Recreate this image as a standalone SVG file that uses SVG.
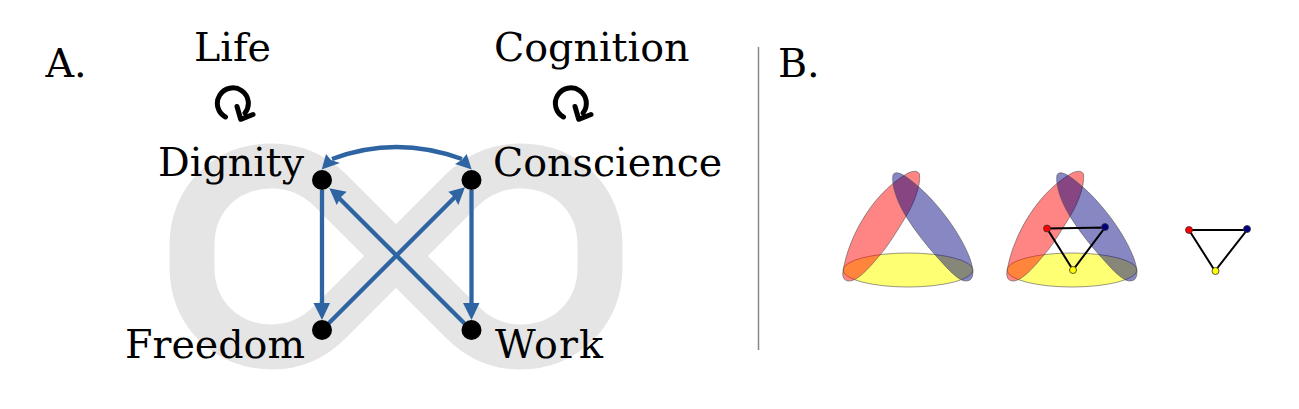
<svg xmlns="http://www.w3.org/2000/svg" width="1299" height="409" viewBox="0 0 1299 409">
<style>
text{font-family:"DejaVu Serif",serif;font-size:39.6px;fill:#000}
.band{fill:none;stroke:#e5e5e5;stroke-width:45}
.e{fill:none;stroke:#2f64a3;stroke-width:4.300}
.ah{fill:#2f64a3}
.dot{fill:#000}
.loop{fill:none;stroke:#000;stroke-width:5;stroke-linecap:round;stroke-linejoin:round}
.r{fill:#ff0000;fill-opacity:.48;stroke:#555;stroke-opacity:.6;stroke-width:1}
.b{fill:#000080;fill-opacity:.47;stroke:#555;stroke-opacity:.6;stroke-width:1}
.y{fill:#ffff00;fill-opacity:.55;stroke:#555;stroke-opacity:.6;stroke-width:1}
.t{fill:none;stroke:#000;stroke-width:2}
.n{stroke:#333;stroke-width:.8}
</style>
<defs>
<g id="venn">
<ellipse class="y" cx="908" cy="270" rx="65" ry="17"/>
<path class="r" d="M842.700 274C846 245 868 196 908 173Q917 169 919.500 174C921 185 914 204 905 218C897 231 888 246 880 255C870 267 858 281 849 281Q843 281 842.700 274Z"/>
<path class="b" d="M973 272C972 250 940 200 905 176Q895 170 893 175C891 186 898 204 907 218C916 232 927 246 937 257C947 268 958 281 966 281Q973 281 973 272Z"/>
</g>
</defs>
<g id="background"><path class="band" d="M396 256L330 190Q305 166 272 166C225 166 192 200 192 245V268C192 312 225 347 272 347Q305 347 330 322L462 190Q487 166 520 166C567 166 600 200 600 245V268C600 312 567 347 520 347Q487 347 462 322L396 256Z"/></g>
<g id="connectors">
<path class="e" d="M332 159Q396 135 462 159"/>
<path class="ah" d="M321.700 169.500L326 154L331 160L340 163Z"/>
<path class="ah" d="M471.700 169.500L466.700 154L461.700 160L455 164Z"/>
<path class="e" d="M322 190V305"/><path class="ah" d="M313.500 303H330L322 320Z"/>
<path class="e" d="M471.500 190V305"/><path class="ah" d="M463 303H479.500L471.500 320Z"/>
<path class="e" d="M326 326L456 196"/><path class="ah" d="M465 187.300L458.300 205L454 197L448.300 191.700Z"/>
<path class="e" d="M467 326L338 197"/><path class="ah" d="M329.300 188.300L346.700 191.700L341 197L336.700 205Z"/>
</g>
<g id="dignity"><circle class="dot" cx="322" cy="180" r="10"/><text x="158" y="176">Dignity</text></g>
<g id="conscience"><circle class="dot" cx="471.500" cy="180" r="10"/><text x="493" y="176">Conscience</text></g>
<g id="freedom"><circle class="dot" cx="322" cy="330" r="10"/><text x="125" y="358">Freedom</text></g>
<g id="work"><circle class="dot" cx="471.500" cy="330" r="10"/><text x="495" y="358" textLength="108">Work</text></g>
<g id="life"><text x="194" y="61">Life</text><path class="loop" d="M225.500 117A15.500 15.500 0 1 1 245 113M237 106.500L240.700 119.300L253 114.500"/></g>
<g id="cognition"><text x="494" y="61">Cognition</text><path class="loop" d="M563.500 117A15.500 15.500 0 1 1 583 113M575 106.500L578.700 119.300L591 114.500"/></g>
<text x="45.500" y="77">A.</text>
<text x="778" y="77">B.</text>
<line x1="758.500" y1="47" x2="758.500" y2="350" stroke="#888" stroke-width="1.500"/>
<g id="venn1"><use href="#venn"/></g>
<g id="venn2"><use href="#venn" x="164"/>
<path class="t" d="M1047 228.500L1105 227.500L1073 270Z"/>
<circle class="n" cx="1047" cy="228.500" r="3.500" fill="#f00"/><circle class="n" cx="1105" cy="227" r="3.500" fill="#000080"/><circle class="n" cx="1073" cy="270" r="3.500" fill="#ff0"/></g>
<g id="triangle"><path class="t" d="M1189 230H1247L1215 271Z"/>
<circle class="n" cx="1189" cy="230" r="3.500" fill="#f00"/><circle class="n" cx="1247" cy="229" r="3.500" fill="#000080"/><circle class="n" cx="1215.500" cy="271" r="3.500" fill="#ff0"/></g>
</svg>
